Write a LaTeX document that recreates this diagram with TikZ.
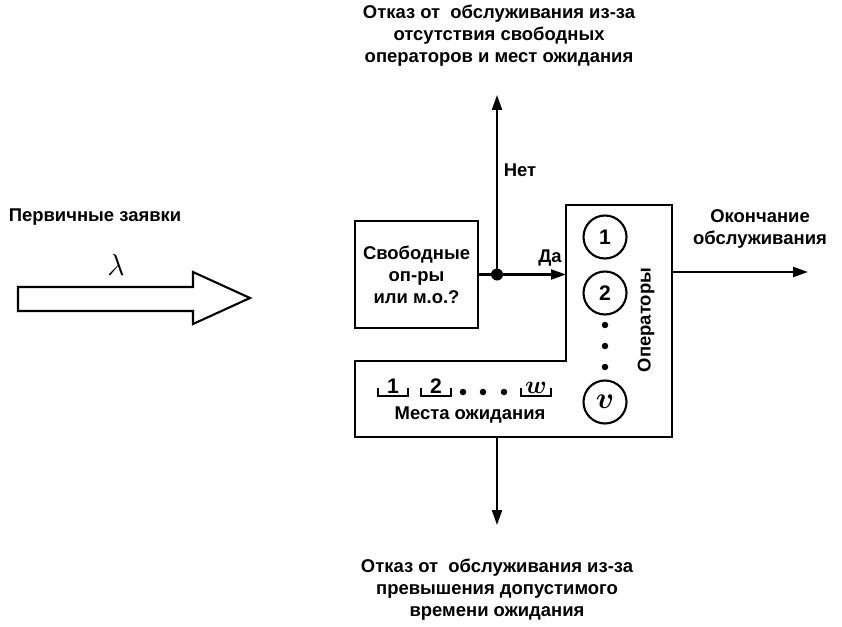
\documentclass[tikz,border=0pt]{standalone}
\usepackage{bm}
\usepackage{fontspec}
\setmainfont{Liberation Sans}
\usetikzlibrary{arrows.meta}

\begin{document}
\begin{tikzpicture}[line width=1.2pt, node distance=1.12cm, font=\bfseries\fontsize{10.5}{12.5}\selectfont, >={Triangle[length=3mm,width=2mm]}]
\useasboundingbox (0,0) rectangle (16.84,12.52);
% Demandes
\node[align=center] (demandes) at (1.9,8.18) {Первичные заявки};
\draw (0.36,6.78) -- (3.86,6.78) -- (3.86,7.08) -- (5.0,6.56) -- (3.86,6.04) -- (3.86,6.3) -- (0.36,6.3) -- cycle;
\node (lambda) at (2.32,7.22) {\LARGE$\lambda$};
% Question
\node[draw,rectangle, minimum width=2.46cm, minimum height=2.14cm, align=center] (question) at (8.33,7.03) {Свободные\\оп-ры\\или м.о.?};
\coordinate (jonction) at (9.94,7.03);
\fill (jonction) circle (0.12);
\draw (question.east) -- (jonction);
% Systeme
\draw (7.1,5.3) -- (11.32,5.3) -- (11.32,8.42) -- (13.44,8.42) -- (13.44,3.78) -- (7.1,3.78) -- cycle;
\coordinate (entree) at (11.32,7.03);
\coordinate (sortie) at (13.44,7.08);
\coordinate (bas) at (9.94,3.78);
% Operateurs
\node[draw,circle, minimum size=0.86cm, inner sep=0pt] (op-1) at (12.1,7.78) {\large 1};
\node[draw,circle, below of=op-1, minimum size=0.86cm, inner sep=0pt] (op-2) {\large 2};
\node[draw,circle, minimum size=0.86cm, inner sep=0pt] (op-v) at (12.1,4.48) {\LARGE$\bm{v}$};
\foreach \y in {6.02,5.6,5.18} \fill (12.1,\y) circle (0.065);
\node[rotate=90] (operateurs) at (12.92,6.12) {Операторы};
% Places d'attente
\foreach \x/\t in {7.86/1, 8.72/2, 10.72/\Large$\bm{w}$} {
  \draw[line width=1pt] (\x-0.3,4.76) -- (\x-0.3,4.6) -- (\x+0.3,4.6) -- (\x+0.3,4.76);
  \node[anchor=base, inner sep=0pt] at (\x,4.66) {\large\t};
}
\foreach \x in {9.26,9.66,10.08} \fill (\x,4.68) circle (0.065);
\node (attente) at (9.4,4.22) {Места ожидания};
% Sorties
\coordinate (rejet-haut) at (9.94,10.62);
\coordinate (rejet-bas) at (9.94,2.02);
\coordinate (fin) at (16.16,7.08);
\draw[->] (jonction) -- (entree);
\draw[->] (jonction) -- (rejet-haut);
\draw[->] (bas) -- (rejet-bas);
\draw[->] (sortie) -- (fin);
% Labels
\node (da) at (11.0,7.36) {Да};
\node (net) at (10.4,9.12) {Нет};
\node[align=center] (refus-1) at (9.98,11.8) {Отказ от\ \ обслуживания из-за\\отсутствия свободных\\операторов и мест ожидания};
\node[align=center] (refus-2) at (9.94,0.72) {Отказ от\ \ обслуживания из-за\\превышения допустимого\\времени ожидания};
\node[align=center] (fin-service) at (15.2,7.94) {Окончание\\обслуживания};
\end{tikzpicture}
\end{document}
